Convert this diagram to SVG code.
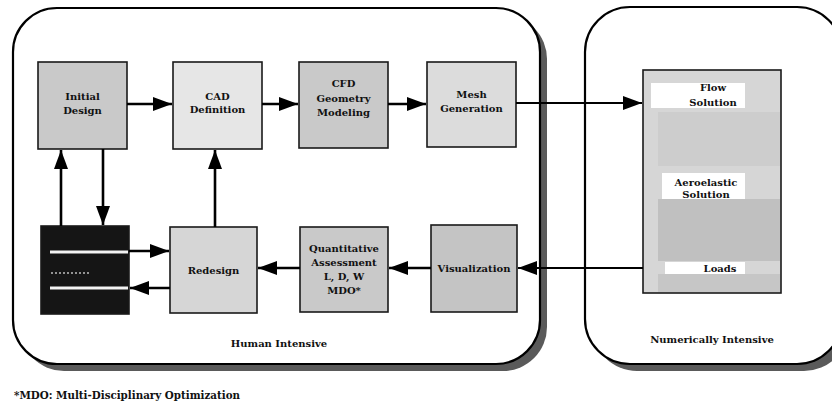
<svg xmlns="http://www.w3.org/2000/svg" width="832" height="406" viewBox="0 0 832 406">
  <style>
    .frame { fill: #ffffff; stroke: #000000; stroke-width: 2.2; }
    .shadow { fill: #5a5a5a; stroke: none; }
    .box { stroke: #1a1a1a; stroke-width: 1.6; }
    .mid { fill: #c9c9c9; }
    .light { fill: #dcdcdc; }
    .lbl { font-family: "DejaVu Serif", "Liberation Serif", serif; font-weight: bold; font-size: 10px; fill: #111111; text-anchor: middle; }
    .note { font-family: "DejaVu Serif", "Liberation Serif", serif; font-weight: bold; font-size: 10.3px; fill: #111111; }
    .wire { stroke: #000000; stroke-width: 2.6; fill: none; marker-end: url(#head); }
    .wire.thin { stroke-width: 2; }
    .band { fill: #ffffff; }
  </style>
  <defs>
    <marker id="head" markerUnits="userSpaceOnUse" markerWidth="20" markerHeight="14" refX="19" refY="7" orient="auto">
      <path d="M0,0 L19,7 L0,14 Z" fill="#000000"/>
    </marker>
  </defs>

  <!-- containers -->
  <g id="human-intensive">
    <rect class="shadow" x="20" y="15" width="527" height="356" rx="44" ry="44"/>
    <rect class="frame" x="13" y="8" width="527" height="356" rx="44" ry="44"/>
    <text class="lbl" x="279" y="347">Human Intensive</text>
  </g>
  <g id="numerically-intensive">
    <rect class="shadow" x="592" y="14" width="257" height="357" rx="45" ry="45"/>
    <rect class="frame" x="585" y="7" width="257" height="357" rx="45" ry="45"/>
    <text class="lbl" x="712" y="343">Numerically Intensive</text>
  </g>

  <!-- upper row -->
  <g id="initial-design">
    <rect class="box mid" x="38" y="62" width="89" height="87"/>
    <text class="lbl" x="82.5" y="100">Initial</text>
    <text class="lbl" x="82.5" y="114">Design</text>
  </g>
  <g id="cad-definition">
    <rect class="box" fill="#e6e6e6" x="173" y="62" width="89" height="87"/>
    <text class="lbl" x="217.5" y="99.5">CAD</text>
    <text class="lbl" x="217.5" y="113">Definition</text>
  </g>
  <g id="cfd-geometry">
    <rect class="box mid" x="299" y="62" width="89" height="86"/>
    <text class="lbl" x="343.5" y="86.5">CFD</text>
    <text class="lbl" x="343.5" y="101.5">Geometry</text>
    <text class="lbl" x="343.5" y="116">Modeling</text>
  </g>
  <g id="mesh-generation">
    <rect class="box light" x="427" y="62" width="89" height="85"/>
    <text class="lbl" x="471.5" y="97.5">Mesh</text>
    <text class="lbl" x="471.5" y="112">Generation</text>
  </g>

  <!-- lower row -->
  <g id="analysis">
    <rect class="box" fill="#151515" x="41" y="226" width="88" height="88"/>
    <line x1="50" y1="252" x2="128" y2="252" stroke="#f2f2f2" stroke-width="3"/>
    <line x1="50" y1="288" x2="128" y2="288" stroke="#f2f2f2" stroke-width="3"/>
    <line x1="51" y1="273" x2="90" y2="273" stroke="#bdbdbd" stroke-width="1.5" stroke-dasharray="2 2"/>
  </g>
  <g id="redesign">
    <rect class="box" fill="#d6d6d6" x="170" y="227" width="87" height="86"/>
    <text class="lbl" x="213.5" y="273.5">Redesign</text>
  </g>
  <g id="quantitative-assessment">
    <rect class="box mid" x="300" y="227" width="88" height="85"/>
    <text class="lbl" x="344" y="251.5">Quantitative</text>
    <text class="lbl" x="344" y="265.5">Assessment</text>
    <text class="lbl" x="344" y="279.5">L, D, W</text>
    <text class="lbl" x="344" y="293.5">MDO*</text>
  </g>
  <g id="visualization">
    <rect class="box" fill="#c4c4c4" x="431" y="225" width="86" height="87"/>
    <text class="lbl" x="474" y="271.5">Visualization</text>
  </g>

  <!-- solver column -->
  <g id="solver">
    <rect class="box" fill="#d6d6d6" x="643" y="70" width="138" height="223"/>
    <rect fill="#cdcdcd" x="658" y="112" width="122" height="54"/>
    <rect fill="#c0c0c0" x="658" y="199" width="122" height="62"/>
    <rect fill="#c6c6c6" x="658" y="274" width="122" height="18"/>
    <rect class="band" x="651" y="83" width="94" height="25"/>
    <rect class="band" x="662" y="173" width="83" height="26"/>
    <rect class="band" x="665" y="262" width="80" height="12"/>
    <text class="lbl" x="713" y="91">Flow</text>
    <text class="lbl" x="713" y="105.5">Solution</text>
    <text class="lbl" x="706" y="186">Aeroelastic</text>
    <text class="lbl" x="706" y="197.5">Solution</text>
    <text class="lbl" x="720" y="271.5">Loads</text>
  </g>

  <!-- connectors -->
  <g id="connectors">
    <line class="wire" x1="127" y1="104" x2="172" y2="104"/>
    <line class="wire" x1="262" y1="104" x2="298" y2="104"/>
    <line class="wire" x1="388" y1="104" x2="426" y2="104"/>
    <line class="wire thin" x1="516" y1="103" x2="642" y2="103"/>
    <line class="wire thin" x1="643" y1="268" x2="518" y2="268"/>
    <line class="wire" x1="431" y1="268" x2="389" y2="268"/>
    <line class="wire" x1="300" y1="268" x2="258" y2="268"/>
    <line class="wire" x1="129" y1="251" x2="169" y2="251"/>
    <line class="wire" x1="170" y1="288" x2="130" y2="288"/>
    <line class="wire" x1="61" y1="226" x2="61" y2="150"/>
    <line class="wire" x1="103" y1="149" x2="103" y2="225"/>
    <line class="wire" x1="215" y1="227" x2="215" y2="150"/>
  </g>

  <text class="note" x="14" y="399">*MDO: Multi-Disciplinary Optimization</text>
</svg>
